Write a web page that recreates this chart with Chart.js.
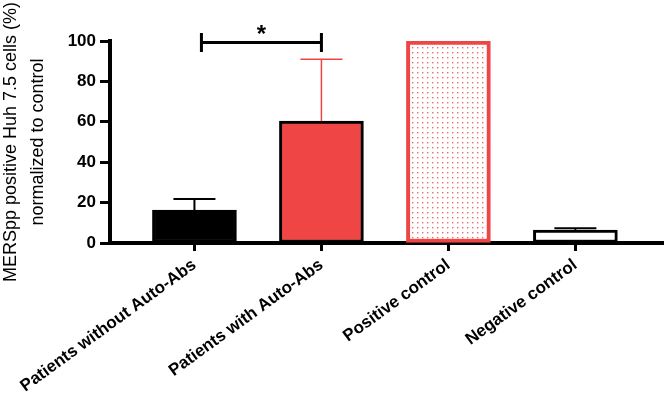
<!DOCTYPE html>
<html>
<head>
<meta charset="utf-8">
<script src="https://cdn.jsdelivr.net/npm/chart.js@4.4.0/dist/chart.umd.min.js"></script>
<style>
  body { margin: 0; background: #fff; }
  #wrap { width: 665px; height: 407px; position: relative; }
</style>
</head>
<body>
<div id="wrap"><canvas id="chart"></canvas></div>
<script>
// data
const categories = ['Patients without Auto-Abs', 'Patients with Auto-Abs', 'Positive control', 'Negative control'];
const means = [16.3, 60.4, 100, 6.4];
const sd = [5.5, 30.6, 0, 0.9];
const yTicks = [0, 20, 40, 60, 80, 100];
const sigPair = [0.055, 1];   // bracket ends (category positions)
const sigLevel = 99.2;
const sigLabel = '*';

const red = '#ef4545';

// dotted fill for the positive control bar
function dotPattern() {
    const c = document.createElement('canvas');
    c.width = 5; c.height = 5;
    const g = c.getContext('2d');
    g.fillStyle = '#fff';
    g.fillRect(0, 0, 5, 5);
    g.fillStyle = 'rgba(238, 80, 80, 0.85)';
    g.fillRect(2, 2, 1.4, 1.4);
    return g.createPattern(c, 'repeat');
}
const ctx = document.getElementById('chart').getContext('2d');

const fills = ['#000000', red, dotPattern(), '#ffffff'];
const borders = ['#000000', '#000000', red, '#000000'];
const borderWidths = [3, 3, 4, 3];
const errColors = ['#000000', red, red, '#000000'];
const errWidths = [2, 1.5, 1.5, 2];

const extras = {
    id: 'extras',
    afterDatasetsDraw(chart) {
        const { ctx } = chart;
        const xs = chart.scales.x, ys = chart.scales.y;
        ctx.save();
        // error bars, upper only
        means.forEach((m, i) => {
            if (!sd[i]) return;
            const x = xs.getPixelForValue(i);
            const y0 = ys.getPixelForValue(m);
            const y1 = ys.getPixelForValue(m + sd[i]);
            ctx.strokeStyle = errColors[i];
            ctx.lineWidth = errWidths[i];
            ctx.beginPath();
            ctx.moveTo(x, y0);
            ctx.lineTo(x, y1);
            ctx.moveTo(x - 21, y1);
            ctx.lineTo(x + 21, y1);
            ctx.stroke();
        });
        // significance bracket
        const xa = xs.getPixelForValue(sigPair[0]);
        const xb = xs.getPixelForValue(sigPair[1]);
        const yb = ys.getPixelForValue(sigLevel);
        ctx.strokeStyle = '#000';
        ctx.lineWidth = 3;
        ctx.beginPath();
        ctx.moveTo(xa, yb); ctx.lineTo(xb, yb);
        ctx.moveTo(xa, yb - 9.5); ctx.lineTo(xa, yb + 9.5);
        ctx.moveTo(xb, yb - 9.5); ctx.lineTo(xb, yb + 9.5);
        ctx.stroke();
        ctx.fillStyle = '#000';
        ctx.font = 'bold 24px "Liberation Sans", Arial, sans-serif';
        ctx.textAlign = 'center';
        ctx.textBaseline = 'alphabetic';
        ctx.fillText(sigLabel, (xa + xb) / 2, yb - 1);
        ctx.restore();
    }
};

new Chart(ctx, {
    type: 'bar',
    data: {
        datasets: [{
            data: means.map((v, i) => ({ x: i, y: v })),
            backgroundColor: fills,
            borderColor: borders,
            borderWidth: borderWidths,
            borderSkipped: false,
            barThickness: 84,
        }]
    },
    options: {
        responsive: true,
        maintainAspectRatio: false,
        animation: false,
        layout: { padding: { top: 41, right: 2, left: 0, bottom: 0 } },
        plugins: { legend: { display: false }, tooltip: { enabled: false } },
        scales: {
            x: {
                type: 'linear',
                offset: false,
                min: -0.665,
                max: 3.69,
                afterBuildTicks: s => { s.ticks = categories.map((c, i) => ({ value: i })); },
                afterFit: s => { s.height = 164; s.paddingLeft = 0; s.paddingRight = 0; },
                border: { display: true, color: '#000', width: 4 },
                grid: { offset: false, drawOnChartArea: false, drawTicks: true, tickLength: 8, tickWidth: 3, tickColor: '#000' },
                ticks: {
                    autoSkip: false,
                    minRotation: 36,
                    maxRotation: 36,
                    padding: 4,
                    color: '#000',
                    font: { family: '"Liberation Sans", Arial, sans-serif', size: 17, weight: 'bold' },
                    callback: v => categories[v]
                }
            },
            y: {
                min: 0,
                max: 100,
                afterBuildTicks: s => { s.ticks = yTicks.map(v => ({ value: v })); },
                afterFit: s => { s.width = 110; },
                border: { display: true, color: '#000', width: 4 },
                grid: { drawOnChartArea: false, drawTicks: true, tickLength: 10, tickWidth: 3, tickColor: '#000' },
                ticks: {
                    padding: 4,
                    color: '#000',
                    font: { family: '"Liberation Sans", Arial, sans-serif', size: 17, weight: 'bold' }
                },
                title: {
                    display: true,
                    text: ['MERSpp positive Huh 7.5 cells (%)', 'normalized to control'],
                    color: '#000',
                    padding: { top: -2, bottom: 0 },
                    font: { family: '"Liberation Sans", Arial, sans-serif', size: 18, lineHeight: 1.5 }
                }
            }
        }
    },
    plugins: [extras]
});
</script>
</body>
</html>
